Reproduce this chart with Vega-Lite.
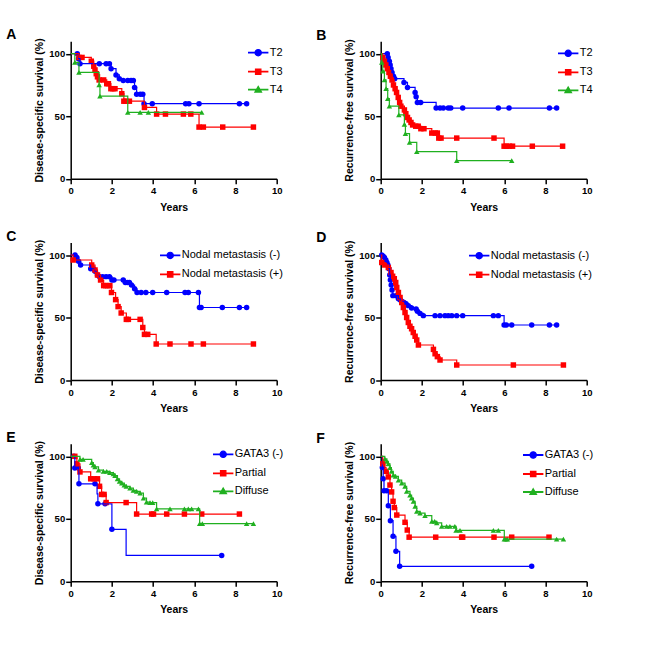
{
"$schema":"https://vega.github.io/schema/vega-lite/v6.json",
"autosize":{"type":"none"},
"padding":{"left":70.7,"top":41.2,"right":582.3,"bottom":608.8},
"background":"white",
"config":{
 "font":"Liberation Sans",
 "view":{"stroke":null},
 "axis":{"domainColor":"#000","domainWidth":1.5,"tickColor":"#000","tickWidth":1.5,"tickSize":5,"labelFont":"Liberation Sans","labelFontWeight":"bold","labelFontSize":9.5,"labelColor":"#000","titleFont":"Liberation Sans","titleFontWeight":"bold","titleFontSize":10.5,"titleColor":"#000","grid":false,"labelFlush":false,"labelOverlap":false,"labelPadding":1},
 "axisX":{"titlePadding":7,"labelPadding":2},
 "axisY":{"titlePadding":4.5},
 "legend":{"orient":"none","labelFont":"Liberation Sans","labelFontSize":11,"labelColor":"#000","symbolSize":36,"symbolStrokeWidth":1.2,"labelOffset":6,"rowPadding":6,"padding":0,"symbolOpacity":1},
 "title":{"anchor":"start","frame":"group","dx":-64.5,"dy":5.5,"offset":1,"baseline":"alphabetic","fontSize":14,"fontWeight":"bold","font":"Liberation Sans","color":"#000"}
},
"datasets":{"km":[
{"p":"A","g":"T2","t":0,"s":100,"c":0},{"p":"A","g":"T2","t":0.32,"s":100,"c":1},{"p":"A","g":"T2","t":0.38,"s":96,"c":1},{"p":"A","g":"T2","t":0.45,"s":92,"c":1},{"p":"A","g":"T2","t":1.39,"s":92,"c":1},{"p":"A","g":"T2","t":1.72,"s":92,"c":1},{"p":"A","g":"T2","t":1.88,"s":92,"c":1},{"p":"A","g":"T2","t":1.96,"s":88,"c":1},{"p":"A","g":"T2","t":2.2,"s":83,"c":1},{"p":"A","g":"T2","t":2.36,"s":80,"c":1},{"p":"A","g":"T2","t":2.55,"s":78.5,"c":1},{"p":"A","g":"T2","t":2.77,"s":78.5,"c":1},{"p":"A","g":"T2","t":2.93,"s":78.5,"c":1},{"p":"A","g":"T2","t":3.04,"s":78.5,"c":1},{"p":"A","g":"T2","t":3.1,"s":73,"c":1},{"p":"A","g":"T2","t":3.2,"s":67.5,"c":1},{"p":"A","g":"T2","t":3.38,"s":67.5,"c":1},{"p":"A","g":"T2","t":3.5,"s":67.5,"c":1},{"p":"A","g":"T2","t":3.56,"s":60,"c":1},{"p":"A","g":"T2","t":3.96,"s":60,"c":1},{"p":"A","g":"T2","t":5.58,"s":60,"c":1},{"p":"A","g":"T2","t":5.74,"s":60,"c":1},{"p":"A","g":"T2","t":6.23,"s":60,"c":1},{"p":"A","g":"T2","t":8.19,"s":60,"c":1},{"p":"A","g":"T2","t":8.54,"s":60,"c":1},
{"p":"A","g":"T3","t":0,"s":100,"c":0},{"p":"A","g":"T3","t":0.4,"s":97,"c":1},{"p":"A","g":"T3","t":0.55,"s":97,"c":1},{"p":"A","g":"T3","t":1.0,"s":94,"c":1},{"p":"A","g":"T3","t":1.12,"s":90,"c":1},{"p":"A","g":"T3","t":1.18,"s":87,"c":1},{"p":"A","g":"T3","t":1.24,"s":84,"c":1},{"p":"A","g":"T3","t":1.3,"s":81.5,"c":1},{"p":"A","g":"T3","t":1.38,"s":79,"c":1},{"p":"A","g":"T3","t":1.6,"s":79,"c":1},{"p":"A","g":"T3","t":1.75,"s":76,"c":1},{"p":"A","g":"T3","t":1.83,"s":76,"c":1},{"p":"A","g":"T3","t":1.95,"s":72,"c":1},{"p":"A","g":"T3","t":2.05,"s":72,"c":1},{"p":"A","g":"T3","t":2.15,"s":72,"c":1},{"p":"A","g":"T3","t":2.48,"s":68,"c":1},{"p":"A","g":"T3","t":2.58,"s":62,"c":1},{"p":"A","g":"T3","t":2.68,"s":62,"c":1},{"p":"A","g":"T3","t":2.85,"s":62,"c":1},{"p":"A","g":"T3","t":3.58,"s":57,"c":1},{"p":"A","g":"T3","t":4.17,"s":51.7,"c":1},{"p":"A","g":"T3","t":4.6,"s":51.7,"c":1},{"p":"A","g":"T3","t":5.47,"s":51.7,"c":1},{"p":"A","g":"T3","t":5.83,"s":51.7,"c":1},{"p":"A","g":"T3","t":6.23,"s":41.3,"c":1},{"p":"A","g":"T3","t":6.44,"s":41.3,"c":1},{"p":"A","g":"T3","t":7.38,"s":41.3,"c":1},{"p":"A","g":"T3","t":8.87,"s":41.3,"c":1},
{"p":"A","g":"T4","t":0,"s":100,"c":0},{"p":"A","g":"T4","t":0.2,"s":93,"c":1},{"p":"A","g":"T4","t":0.4,"s":85,"c":1},{"p":"A","g":"T4","t":1.38,"s":75,"c":1},{"p":"A","g":"T4","t":1.42,"s":66,"c":1},{"p":"A","g":"T4","t":2.77,"s":53,"c":1},{"p":"A","g":"T4","t":3.37,"s":53,"c":1},{"p":"A","g":"T4","t":3.77,"s":53,"c":1},{"p":"A","g":"T4","t":6.36,"s":53,"c":1},
{"p":"B","g":"T2","t":0,"s":100,"c":0},{"p":"B","g":"T2","t":0.32,"s":100,"c":1},{"p":"B","g":"T2","t":0.36,"s":97,"c":1},{"p":"B","g":"T2","t":0.42,"s":94,"c":1},{"p":"B","g":"T2","t":0.46,"s":91,"c":1},{"p":"B","g":"T2","t":0.5,"s":88,"c":1},{"p":"B","g":"T2","t":0.55,"s":85,"c":1},{"p":"B","g":"T2","t":0.62,"s":82,"c":1},{"p":"B","g":"T2","t":0.68,"s":80,"c":1},{"p":"B","g":"T2","t":1.13,"s":77,"c":1},{"p":"B","g":"T2","t":1.3,"s":73,"c":1},{"p":"B","g":"T2","t":1.67,"s":69,"c":1},{"p":"B","g":"T2","t":1.72,"s":65.5,"c":1},{"p":"B","g":"T2","t":1.78,"s":61,"c":1},{"p":"B","g":"T2","t":1.94,"s":61,"c":1},{"p":"B","g":"T2","t":2.69,"s":56.5,"c":1},{"p":"B","g":"T2","t":2.88,"s":56.5,"c":1},{"p":"B","g":"T2","t":3.04,"s":56.5,"c":1},{"p":"B","g":"T2","t":3.28,"s":56.5,"c":1},{"p":"B","g":"T2","t":3.4,"s":56.5,"c":1},{"p":"B","g":"T2","t":3.98,"s":56.5,"c":1},{"p":"B","g":"T2","t":5.71,"s":56.5,"c":1},{"p":"B","g":"T2","t":6.23,"s":56.5,"c":1},{"p":"B","g":"T2","t":8.19,"s":56.5,"c":1},{"p":"B","g":"T2","t":8.54,"s":56.5,"c":1},
{"p":"B","g":"T3","t":0,"s":100,"c":0},{"p":"B","g":"T3","t":0.1,"s":97,"c":1},{"p":"B","g":"T3","t":0.18,"s":94,"c":1},{"p":"B","g":"T3","t":0.25,"s":91,"c":1},{"p":"B","g":"T3","t":0.32,"s":88,"c":1},{"p":"B","g":"T3","t":0.4,"s":85,"c":1},{"p":"B","g":"T3","t":0.47,"s":82,"c":1},{"p":"B","g":"T3","t":0.55,"s":79,"c":1},{"p":"B","g":"T3","t":0.62,"s":75,"c":1},{"p":"B","g":"T3","t":0.7,"s":72,"c":1},{"p":"B","g":"T3","t":0.77,"s":69,"c":1},{"p":"B","g":"T3","t":0.85,"s":65,"c":1},{"p":"B","g":"T3","t":0.92,"s":61,"c":1},{"p":"B","g":"T3","t":0.98,"s":58,"c":1},{"p":"B","g":"T3","t":1.15,"s":55,"c":1},{"p":"B","g":"T3","t":1.22,"s":52,"c":1},{"p":"B","g":"T3","t":1.3,"s":49,"c":1},{"p":"B","g":"T3","t":1.38,"s":47,"c":1},{"p":"B","g":"T3","t":1.47,"s":45,"c":1},{"p":"B","g":"T3","t":1.55,"s":43,"c":1},{"p":"B","g":"T3","t":1.7,"s":42,"c":1},{"p":"B","g":"T3","t":1.82,"s":42,"c":1},{"p":"B","g":"T3","t":1.95,"s":40,"c":1},{"p":"B","g":"T3","t":2.1,"s":40,"c":1},{"p":"B","g":"T3","t":2.48,"s":36.5,"c":1},{"p":"B","g":"T3","t":2.65,"s":36.5,"c":1},{"p":"B","g":"T3","t":2.75,"s":36.5,"c":1},{"p":"B","g":"T3","t":2.82,"s":32.5,"c":1},{"p":"B","g":"T3","t":2.93,"s":32.5,"c":1},{"p":"B","g":"T3","t":3.69,"s":32.5,"c":1},{"p":"B","g":"T3","t":5.5,"s":32.5,"c":1},{"p":"B","g":"T3","t":5.99,"s":26,"c":1},{"p":"B","g":"T3","t":6.1,"s":26,"c":1},{"p":"B","g":"T3","t":6.25,"s":26,"c":1},{"p":"B","g":"T3","t":6.4,"s":26,"c":1},{"p":"B","g":"T3","t":7.36,"s":26,"c":1},{"p":"B","g":"T3","t":8.83,"s":26,"c":1},
{"p":"B","g":"T4","t":0,"s":100,"c":0},{"p":"B","g":"T4","t":0.05,"s":93,"c":1},{"p":"B","g":"T4","t":0.1,"s":86,"c":1},{"p":"B","g":"T4","t":0.18,"s":79,"c":1},{"p":"B","g":"T4","t":0.26,"s":72,"c":1},{"p":"B","g":"T4","t":0.34,"s":64,"c":1},{"p":"B","g":"T4","t":0.42,"s":58,"c":1},{"p":"B","g":"T4","t":0.88,"s":51,"c":1},{"p":"B","g":"T4","t":1.15,"s":43.5,"c":1},{"p":"B","g":"T4","t":1.2,"s":36,"c":1},{"p":"B","g":"T4","t":1.4,"s":29,"c":1},{"p":"B","g":"T4","t":1.75,"s":21.6,"c":1},{"p":"B","g":"T4","t":3.69,"s":14.4,"c":1},{"p":"B","g":"T4","t":6.36,"s":14.4,"c":1},
{"p":"C","g":"Nodal metastasis (-)","t":0,"s":100,"c":0},{"p":"C","g":"Nodal metastasis (-)","t":0.21,"s":100,"c":1},{"p":"C","g":"Nodal metastasis (-)","t":0.3,"s":98,"c":1},{"p":"C","g":"Nodal metastasis (-)","t":0.38,"s":95,"c":1},{"p":"C","g":"Nodal metastasis (-)","t":0.48,"s":92,"c":1},{"p":"C","g":"Nodal metastasis (-)","t":0.97,"s":89,"c":1},{"p":"C","g":"Nodal metastasis (-)","t":1.1,"s":89,"c":1},{"p":"C","g":"Nodal metastasis (-)","t":1.18,"s":87,"c":1},{"p":"C","g":"Nodal metastasis (-)","t":1.3,"s":84,"c":1},{"p":"C","g":"Nodal metastasis (-)","t":1.4,"s":82.7,"c":1},{"p":"C","g":"Nodal metastasis (-)","t":1.55,"s":82.7,"c":1},{"p":"C","g":"Nodal metastasis (-)","t":1.72,"s":82.7,"c":1},{"p":"C","g":"Nodal metastasis (-)","t":1.88,"s":82.7,"c":1},{"p":"C","g":"Nodal metastasis (-)","t":2.0,"s":80,"c":1},{"p":"C","g":"Nodal metastasis (-)","t":2.1,"s":80,"c":1},{"p":"C","g":"Nodal metastasis (-)","t":2.55,"s":80,"c":1},{"p":"C","g":"Nodal metastasis (-)","t":2.65,"s":78,"c":1},{"p":"C","g":"Nodal metastasis (-)","t":2.75,"s":78,"c":1},{"p":"C","g":"Nodal metastasis (-)","t":2.85,"s":78,"c":1},{"p":"C","g":"Nodal metastasis (-)","t":2.95,"s":76,"c":1},{"p":"C","g":"Nodal metastasis (-)","t":3.1,"s":73,"c":1},{"p":"C","g":"Nodal metastasis (-)","t":3.22,"s":70,"c":1},{"p":"C","g":"Nodal metastasis (-)","t":3.42,"s":70,"c":1},{"p":"C","g":"Nodal metastasis (-)","t":3.65,"s":70,"c":1},{"p":"C","g":"Nodal metastasis (-)","t":3.98,"s":70,"c":1},{"p":"C","g":"Nodal metastasis (-)","t":4.66,"s":70,"c":1},{"p":"C","g":"Nodal metastasis (-)","t":5.55,"s":70,"c":1},{"p":"C","g":"Nodal metastasis (-)","t":5.71,"s":70,"c":1},{"p":"C","g":"Nodal metastasis (-)","t":6.2,"s":70,"c":1},{"p":"C","g":"Nodal metastasis (-)","t":6.25,"s":58,"c":1},{"p":"C","g":"Nodal metastasis (-)","t":6.33,"s":58,"c":1},{"p":"C","g":"Nodal metastasis (-)","t":7.36,"s":58,"c":1},{"p":"C","g":"Nodal metastasis (-)","t":8.19,"s":58,"c":1},{"p":"C","g":"Nodal metastasis (-)","t":8.54,"s":58,"c":1},
{"p":"C","g":"Nodal metastasis (+)","t":0,"s":100,"c":0},{"p":"C","g":"Nodal metastasis (+)","t":0.12,"s":96,"c":1},{"p":"C","g":"Nodal metastasis (+)","t":1.02,"s":92,"c":1},{"p":"C","g":"Nodal metastasis (+)","t":1.18,"s":88,"c":1},{"p":"C","g":"Nodal metastasis (+)","t":1.3,"s":84,"c":1},{"p":"C","g":"Nodal metastasis (+)","t":1.45,"s":80,"c":1},{"p":"C","g":"Nodal metastasis (+)","t":1.6,"s":75.5,"c":1},{"p":"C","g":"Nodal metastasis (+)","t":1.7,"s":75.5,"c":1},{"p":"C","g":"Nodal metastasis (+)","t":1.8,"s":75.5,"c":1},{"p":"C","g":"Nodal metastasis (+)","t":1.9,"s":75.5,"c":1},{"p":"C","g":"Nodal metastasis (+)","t":1.98,"s":70,"c":1},{"p":"C","g":"Nodal metastasis (+)","t":2.18,"s":64.3,"c":1},{"p":"C","g":"Nodal metastasis (+)","t":2.3,"s":58.7,"c":1},{"p":"C","g":"Nodal metastasis (+)","t":2.45,"s":53.6,"c":1},{"p":"C","g":"Nodal metastasis (+)","t":2.7,"s":48.5,"c":1},{"p":"C","g":"Nodal metastasis (+)","t":2.8,"s":48.5,"c":1},{"p":"C","g":"Nodal metastasis (+)","t":3.37,"s":48.5,"c":1},{"p":"C","g":"Nodal metastasis (+)","t":3.5,"s":42,"c":1},{"p":"C","g":"Nodal metastasis (+)","t":3.58,"s":36.5,"c":1},{"p":"C","g":"Nodal metastasis (+)","t":3.74,"s":36.5,"c":1},{"p":"C","g":"Nodal metastasis (+)","t":4.15,"s":28.8,"c":1},{"p":"C","g":"Nodal metastasis (+)","t":4.82,"s":28.8,"c":1},{"p":"C","g":"Nodal metastasis (+)","t":5.84,"s":28.8,"c":1},{"p":"C","g":"Nodal metastasis (+)","t":6.44,"s":28.8,"c":1},{"p":"C","g":"Nodal metastasis (+)","t":8.87,"s":28.8,"c":1},
{"p":"D","g":"Nodal metastasis (-)","t":0,"s":100,"c":0},{"p":"D","g":"Nodal metastasis (-)","t":0.05,"s":100,"c":1},{"p":"D","g":"Nodal metastasis (-)","t":0.12,"s":99,"c":1},{"p":"D","g":"Nodal metastasis (-)","t":0.18,"s":98,"c":1},{"p":"D","g":"Nodal metastasis (-)","t":0.25,"s":96,"c":1},{"p":"D","g":"Nodal metastasis (-)","t":0.3,"s":94,"c":1},{"p":"D","g":"Nodal metastasis (-)","t":0.35,"s":92,"c":1},{"p":"D","g":"Nodal metastasis (-)","t":0.4,"s":89,"c":1},{"p":"D","g":"Nodal metastasis (-)","t":0.44,"s":84,"c":1},{"p":"D","g":"Nodal metastasis (-)","t":0.47,"s":80,"c":1},{"p":"D","g":"Nodal metastasis (-)","t":0.51,"s":76,"c":1},{"p":"D","g":"Nodal metastasis (-)","t":0.55,"s":72,"c":1},{"p":"D","g":"Nodal metastasis (-)","t":0.59,"s":67.5,"c":1},{"p":"D","g":"Nodal metastasis (-)","t":0.75,"s":67.5,"c":1},{"p":"D","g":"Nodal metastasis (-)","t":0.86,"s":65,"c":1},{"p":"D","g":"Nodal metastasis (-)","t":0.95,"s":64,"c":1},{"p":"D","g":"Nodal metastasis (-)","t":1.02,"s":63,"c":1},{"p":"D","g":"Nodal metastasis (-)","t":1.13,"s":62,"c":1},{"p":"D","g":"Nodal metastasis (-)","t":1.23,"s":61,"c":1},{"p":"D","g":"Nodal metastasis (-)","t":1.34,"s":59.5,"c":1},{"p":"D","g":"Nodal metastasis (-)","t":1.5,"s":57.6,"c":1},{"p":"D","g":"Nodal metastasis (-)","t":1.72,"s":56.8,"c":1},{"p":"D","g":"Nodal metastasis (-)","t":1.78,"s":55,"c":1},{"p":"D","g":"Nodal metastasis (-)","t":1.91,"s":53.3,"c":1},{"p":"D","g":"Nodal metastasis (-)","t":2.07,"s":51.5,"c":1},{"p":"D","g":"Nodal metastasis (-)","t":2.64,"s":51.5,"c":1},{"p":"D","g":"Nodal metastasis (-)","t":2.88,"s":51.5,"c":1},{"p":"D","g":"Nodal metastasis (-)","t":3.12,"s":51.5,"c":1},{"p":"D","g":"Nodal metastasis (-)","t":3.28,"s":51.5,"c":1},{"p":"D","g":"Nodal metastasis (-)","t":3.45,"s":51.5,"c":1},{"p":"D","g":"Nodal metastasis (-)","t":3.69,"s":51.5,"c":1},{"p":"D","g":"Nodal metastasis (-)","t":3.98,"s":51.5,"c":1},{"p":"D","g":"Nodal metastasis (-)","t":5.47,"s":51.5,"c":1},{"p":"D","g":"Nodal metastasis (-)","t":5.71,"s":51.5,"c":1},{"p":"D","g":"Nodal metastasis (-)","t":5.99,"s":44,"c":1},{"p":"D","g":"Nodal metastasis (-)","t":6.1,"s":44,"c":1},{"p":"D","g":"Nodal metastasis (-)","t":6.36,"s":44,"c":1},{"p":"D","g":"Nodal metastasis (-)","t":7.33,"s":44,"c":1},{"p":"D","g":"Nodal metastasis (-)","t":8.19,"s":44,"c":1},{"p":"D","g":"Nodal metastasis (-)","t":8.54,"s":44,"c":1},
{"p":"D","g":"Nodal metastasis (+)","t":0,"s":100,"c":0},{"p":"D","g":"Nodal metastasis (+)","t":0.05,"s":94,"c":1},{"p":"D","g":"Nodal metastasis (+)","t":0.2,"s":92,"c":1},{"p":"D","g":"Nodal metastasis (+)","t":0.37,"s":90,"c":1},{"p":"D","g":"Nodal metastasis (+)","t":0.5,"s":86,"c":1},{"p":"D","g":"Nodal metastasis (+)","t":0.58,"s":83,"c":1},{"p":"D","g":"Nodal metastasis (+)","t":0.66,"s":81,"c":1},{"p":"D","g":"Nodal metastasis (+)","t":0.73,"s":78,"c":1},{"p":"D","g":"Nodal metastasis (+)","t":0.78,"s":74,"c":1},{"p":"D","g":"Nodal metastasis (+)","t":0.86,"s":70,"c":1},{"p":"D","g":"Nodal metastasis (+)","t":0.94,"s":66,"c":1},{"p":"D","g":"Nodal metastasis (+)","t":1.02,"s":62,"c":1},{"p":"D","g":"Nodal metastasis (+)","t":1.1,"s":58,"c":1},{"p":"D","g":"Nodal metastasis (+)","t":1.18,"s":54,"c":1},{"p":"D","g":"Nodal metastasis (+)","t":1.26,"s":50,"c":1},{"p":"D","g":"Nodal metastasis (+)","t":1.34,"s":46,"c":1},{"p":"D","g":"Nodal metastasis (+)","t":1.42,"s":43,"c":1},{"p":"D","g":"Nodal metastasis (+)","t":1.5,"s":41,"c":1},{"p":"D","g":"Nodal metastasis (+)","t":1.58,"s":38,"c":1},{"p":"D","g":"Nodal metastasis (+)","t":1.67,"s":35,"c":1},{"p":"D","g":"Nodal metastasis (+)","t":1.75,"s":32,"c":1},{"p":"D","g":"Nodal metastasis (+)","t":1.83,"s":28,"c":1},{"p":"D","g":"Nodal metastasis (+)","t":2.56,"s":24.5,"c":1},{"p":"D","g":"Nodal metastasis (+)","t":2.64,"s":21,"c":1},{"p":"D","g":"Nodal metastasis (+)","t":2.75,"s":18.7,"c":1},{"p":"D","g":"Nodal metastasis (+)","t":2.88,"s":16,"c":1},{"p":"D","g":"Nodal metastasis (+)","t":3.69,"s":12,"c":1},{"p":"D","g":"Nodal metastasis (+)","t":6.44,"s":12,"c":1},{"p":"D","g":"Nodal metastasis (+)","t":8.87,"s":12,"c":1},
{"p":"E","g":"GATA3 (-)","t":0,"s":100,"c":0},{"p":"E","g":"GATA3 (-)","t":0.16,"s":100,"c":1},{"p":"E","g":"GATA3 (-)","t":0.2,"s":90.7,"c":1},{"p":"E","g":"GATA3 (-)","t":0.37,"s":90.7,"c":1},{"p":"E","g":"GATA3 (-)","t":0.4,"s":78,"c":1},{"p":"E","g":"GATA3 (-)","t":1.18,"s":78,"c":1},{"p":"E","g":"GATA3 (-)","t":1.28,"s":70,"c":0},{"p":"E","g":"GATA3 (-)","t":1.32,"s":62,"c":1},{"p":"E","g":"GATA3 (-)","t":1.67,"s":62,"c":1},{"p":"E","g":"GATA3 (-)","t":2.0,"s":41.6,"c":1},{"p":"E","g":"GATA3 (-)","t":2.69,"s":20.7,"c":0},{"p":"E","g":"GATA3 (-)","t":7.33,"s":20.7,"c":1},
{"p":"E","g":"Partial","t":0,"s":100,"c":0},{"p":"E","g":"Partial","t":0.2,"s":100,"c":1},{"p":"E","g":"Partial","t":0.3,"s":94,"c":1},{"p":"E","g":"Partial","t":0.45,"s":87.5,"c":1},{"p":"E","g":"Partial","t":0.97,"s":82,"c":1},{"p":"E","g":"Partial","t":1.14,"s":82,"c":1},{"p":"E","g":"Partial","t":1.3,"s":82,"c":1},{"p":"E","g":"Partial","t":1.4,"s":76,"c":1},{"p":"E","g":"Partial","t":1.5,"s":69.5,"c":1},{"p":"E","g":"Partial","t":1.62,"s":69.5,"c":1},{"p":"E","g":"Partial","t":1.72,"s":63,"c":1},{"p":"E","g":"Partial","t":2.69,"s":63,"c":1},{"p":"E","g":"Partial","t":3.2,"s":53.8,"c":1},{"p":"E","g":"Partial","t":3.93,"s":53.8,"c":1},{"p":"E","g":"Partial","t":4.02,"s":53.8,"c":1},{"p":"E","g":"Partial","t":4.66,"s":53.8,"c":1},{"p":"E","g":"Partial","t":5.52,"s":53.8,"c":1},{"p":"E","g":"Partial","t":6.36,"s":53.8,"c":1},{"p":"E","g":"Partial","t":8.19,"s":53.8,"c":1},
{"p":"E","g":"Diffuse","t":0,"s":100,"c":0},{"p":"E","g":"Diffuse","t":0.45,"s":97.6,"c":1},{"p":"E","g":"Diffuse","t":0.6,"s":97.6,"c":1},{"p":"E","g":"Diffuse","t":1.02,"s":95,"c":1},{"p":"E","g":"Diffuse","t":1.1,"s":93,"c":1},{"p":"E","g":"Diffuse","t":1.18,"s":91.5,"c":1},{"p":"E","g":"Diffuse","t":1.35,"s":89,"c":1},{"p":"E","g":"Diffuse","t":1.59,"s":88,"c":1},{"p":"E","g":"Diffuse","t":1.75,"s":88,"c":1},{"p":"E","g":"Diffuse","t":1.9,"s":87,"c":1},{"p":"E","g":"Diffuse","t":2.07,"s":86,"c":1},{"p":"E","g":"Diffuse","t":2.15,"s":84.5,"c":1},{"p":"E","g":"Diffuse","t":2.27,"s":82,"c":1},{"p":"E","g":"Diffuse","t":2.37,"s":80,"c":1},{"p":"E","g":"Diffuse","t":2.48,"s":78.5,"c":1},{"p":"E","g":"Diffuse","t":2.6,"s":77,"c":1},{"p":"E","g":"Diffuse","t":2.7,"s":76,"c":1},{"p":"E","g":"Diffuse","t":2.88,"s":74.5,"c":1},{"p":"E","g":"Diffuse","t":3.04,"s":72.7,"c":1},{"p":"E","g":"Diffuse","t":3.2,"s":72,"c":1},{"p":"E","g":"Diffuse","t":3.37,"s":70.5,"c":1},{"p":"E","g":"Diffuse","t":3.53,"s":66.6,"c":1},{"p":"E","g":"Diffuse","t":3.68,"s":63.4,"c":1},{"p":"E","g":"Diffuse","t":3.85,"s":63,"c":1},{"p":"E","g":"Diffuse","t":3.98,"s":63,"c":1},{"p":"E","g":"Diffuse","t":4.17,"s":58,"c":1},{"p":"E","g":"Diffuse","t":4.82,"s":58,"c":1},{"p":"E","g":"Diffuse","t":5.52,"s":58,"c":1},{"p":"E","g":"Diffuse","t":5.71,"s":58,"c":1},{"p":"E","g":"Diffuse","t":5.87,"s":58,"c":1},{"p":"E","g":"Diffuse","t":6.2,"s":58,"c":1},{"p":"E","g":"Diffuse","t":6.26,"s":46.2,"c":1},{"p":"E","g":"Diffuse","t":6.39,"s":46.2,"c":1},{"p":"E","g":"Diffuse","t":8.54,"s":46.2,"c":1},{"p":"E","g":"Diffuse","t":8.87,"s":46.2,"c":1},
{"p":"F","g":"GATA3 (-)","t":0,"s":100,"c":0},{"p":"F","g":"GATA3 (-)","t":0.08,"s":91,"c":1},{"p":"F","g":"GATA3 (-)","t":0.12,"s":82,"c":1},{"p":"F","g":"GATA3 (-)","t":0.16,"s":72.5,"c":1},{"p":"F","g":"GATA3 (-)","t":0.29,"s":72.5,"c":1},{"p":"F","g":"GATA3 (-)","t":0.37,"s":60.5,"c":1},{"p":"F","g":"GATA3 (-)","t":0.47,"s":48.5,"c":1},{"p":"F","g":"GATA3 (-)","t":0.6,"s":36,"c":1},{"p":"F","g":"GATA3 (-)","t":0.74,"s":24,"c":1},{"p":"F","g":"GATA3 (-)","t":0.92,"s":12,"c":1},{"p":"F","g":"GATA3 (-)","t":7.33,"s":12,"c":1},
{"p":"F","g":"Partial","t":0,"s":100,"c":0},{"p":"F","g":"Partial","t":0.1,"s":94,"c":1},{"p":"F","g":"Partial","t":0.2,"s":91,"c":0},{"p":"F","g":"Partial","t":0.26,"s":88,"c":1},{"p":"F","g":"Partial","t":0.37,"s":83.5,"c":1},{"p":"F","g":"Partial","t":0.45,"s":77,"c":1},{"p":"F","g":"Partial","t":0.53,"s":71.5,"c":1},{"p":"F","g":"Partial","t":0.6,"s":64,"c":1},{"p":"F","g":"Partial","t":0.66,"s":59,"c":1},{"p":"F","g":"Partial","t":0.78,"s":53,"c":1},{"p":"F","g":"Partial","t":1.18,"s":47.2,"c":1},{"p":"F","g":"Partial","t":1.29,"s":41,"c":1},{"p":"F","g":"Partial","t":1.38,"s":35.3,"c":1},{"p":"F","g":"Partial","t":2.67,"s":35.3,"c":1},{"p":"F","g":"Partial","t":3.93,"s":35.3,"c":1},{"p":"F","g":"Partial","t":3.98,"s":35.3,"c":1},{"p":"F","g":"Partial","t":5.5,"s":35.3,"c":1},{"p":"F","g":"Partial","t":6.36,"s":35.3,"c":1},{"p":"F","g":"Partial","t":8.17,"s":35.3,"c":1},
{"p":"F","g":"Diffuse","t":0,"s":100,"c":0},{"p":"F","g":"Diffuse","t":0.2,"s":98,"c":1},{"p":"F","g":"Diffuse","t":0.3,"s":96,"c":1},{"p":"F","g":"Diffuse","t":0.37,"s":94,"c":1},{"p":"F","g":"Diffuse","t":0.45,"s":91,"c":1},{"p":"F","g":"Diffuse","t":0.52,"s":88,"c":1},{"p":"F","g":"Diffuse","t":0.61,"s":85,"c":1},{"p":"F","g":"Diffuse","t":0.72,"s":84,"c":1},{"p":"F","g":"Diffuse","t":0.86,"s":81,"c":1},{"p":"F","g":"Diffuse","t":1.02,"s":78.5,"c":1},{"p":"F","g":"Diffuse","t":1.18,"s":76,"c":1},{"p":"F","g":"Diffuse","t":1.26,"s":72,"c":1},{"p":"F","g":"Diffuse","t":1.42,"s":69,"c":1},{"p":"F","g":"Diffuse","t":1.5,"s":66.6,"c":1},{"p":"F","g":"Diffuse","t":1.59,"s":64,"c":1},{"p":"F","g":"Diffuse","t":1.67,"s":60,"c":1},{"p":"F","g":"Diffuse","t":1.75,"s":56,"c":1},{"p":"F","g":"Diffuse","t":1.91,"s":54.6,"c":1},{"p":"F","g":"Diffuse","t":2.15,"s":52.5,"c":1},{"p":"F","g":"Diffuse","t":2.48,"s":48,"c":1},{"p":"F","g":"Diffuse","t":2.62,"s":48,"c":1},{"p":"F","g":"Diffuse","t":2.72,"s":46.7,"c":1},{"p":"F","g":"Diffuse","t":2.96,"s":44,"c":1},{"p":"F","g":"Diffuse","t":3.2,"s":44,"c":1},{"p":"F","g":"Diffuse","t":3.36,"s":44,"c":1},{"p":"F","g":"Diffuse","t":3.6,"s":44,"c":1},{"p":"F","g":"Diffuse","t":3.66,"s":40.8,"c":1},{"p":"F","g":"Diffuse","t":3.85,"s":40.8,"c":1},{"p":"F","g":"Diffuse","t":5.47,"s":40.8,"c":1},{"p":"F","g":"Diffuse","t":5.71,"s":40.8,"c":1},{"p":"F","g":"Diffuse","t":6.0,"s":33.7,"c":1},{"p":"F","g":"Diffuse","t":6.08,"s":33.7,"c":1},{"p":"F","g":"Diffuse","t":6.15,"s":33.7,"c":1},{"p":"F","g":"Diffuse","t":8.54,"s":33.7,"c":1},{"p":"F","g":"Diffuse","t":8.87,"s":33.7,"c":1}
]},
"columns":2,
"spacing":{"row":63.3,"column":104},
"bounds":"flush",
"resolve":{"scale":{"color":"independent","x":"independent","y":"independent"},"legend":{"color":"independent"}},
"concat":[
{"title":{"text":"A"},
 "width":206,"height":137.5,"data":{"name":"km"},"transform":[{"filter":"datum.p == 'A'"}],
 "encoding":{"x":{"field":"t","type":"quantitative","scale":{"domain":[0,10]},"axis":{"title":"Years","values":[0,2,4,6,8,10]}},
    "y":{"field":"s","type":"quantitative","scale":{"domain":[0,110]},"axis":{"title":"Disease-specific survival (%)","values":[0,50,100]}},
    "color":{"field":"g","type":"nominal","scale":{"domain":["T2","T3","T4"],"range":["#0000ff","#ff0000","#20b020"]},
     "legend":{"title":null,"legendX":182,"legendY":6,"symbolType":{"expr":"datum.index == 0 ? 'M-3.2,-0.1H3.2V0.1H-3.2ZM1.05,0A1.05,1.05,0,1,1,-1.05,0A1.05,1.05,0,1,1,1.05,0Z' : datum.index == 1 ? 'M-3.2,-0.1H3.2V0.1H-3.2ZM-0.9,-0.9H0.9V0.9H-0.9Z' : 'M-3.2,-0.1H3.2V0.1H-3.2ZM0,-1.1L1.1,0.8H-1.1Z'"}}}},
 "layer":[
  {"transform":[{"filter":"datum.c == 1 && datum.g == 'T2'"}],"mark":{"type":"point","filled":true,"size":30,"opacity":1,"shape":"circle"}},
  {"transform":[{"filter":"datum.c == 1 && datum.g == 'T3'"}],"mark":{"type":"point","filled":true,"size":30,"opacity":1,"shape":"square"}},
  {"transform":[{"filter":"datum.c == 1 && datum.g == 'T4'"}],"mark":{"type":"point","filled":true,"size":30,"opacity":1,"shape":"triangle-up"}},
  {"mark":{"type":"line","interpolate":"step-after","strokeWidth":1.2}},
  {"data":{"values":[{}]},"mark":{"type":"text","align":"right","baseline":"middle","dx":5,"fontSize":11,"fontWeight":"bold","font":"Liberation Sans","color":"#000"},
   "encoding":{"x":{"datum":10,"type":"quantitative"},"y":{"datum":11.5,"type":"quantitative"},"color":{"value":"#000"},"text":{"value":"= 0.279"}}},
  {"data":{"values":[{}]},"mark":{"type":"text","align":"right","baseline":"middle","dx":-35,"fontSize":11,"fontWeight":"bold","fontStyle":"italic","font":"Liberation Sans","color":"#000"},
   "encoding":{"x":{"datum":10,"type":"quantitative"},"y":{"datum":11.5,"type":"quantitative"},"color":{"value":"#000"},"text":{"value":"p"}}}
 ]},
{"title":{"text":"B"},
 "width":206,"height":137.5,"data":{"name":"km"},"transform":[{"filter":"datum.p == 'B'"}],
 "encoding":{"x":{"field":"t","type":"quantitative","scale":{"domain":[0,10]},"axis":{"title":"Years","values":[0,2,4,6,8,10]}},
    "y":{"field":"s","type":"quantitative","scale":{"domain":[0,110]},"axis":{"title":"Recurrence-free survival (%)","values":[0,50,100]}},
    "color":{"field":"g","type":"nominal","scale":{"domain":["T2","T3","T4"],"range":["#0000ff","#ff0000","#20b020"]},
     "legend":{"title":null,"legendX":182,"legendY":6.6,"symbolType":{"expr":"datum.index == 0 ? 'M-3.2,-0.1H3.2V0.1H-3.2ZM1.05,0A1.05,1.05,0,1,1,-1.05,0A1.05,1.05,0,1,1,1.05,0Z' : datum.index == 1 ? 'M-3.2,-0.1H3.2V0.1H-3.2ZM-0.9,-0.9H0.9V0.9H-0.9Z' : 'M-3.2,-0.1H3.2V0.1H-3.2ZM0,-1.1L1.1,0.8H-1.1Z'"}}}},
 "layer":[
  {"transform":[{"filter":"datum.c == 1 && datum.g == 'T2'"}],"mark":{"type":"point","filled":true,"size":30,"opacity":1,"shape":"circle"}},
  {"transform":[{"filter":"datum.c == 1 && datum.g == 'T3'"}],"mark":{"type":"point","filled":true,"size":30,"opacity":1,"shape":"square"}},
  {"transform":[{"filter":"datum.c == 1 && datum.g == 'T4'"}],"mark":{"type":"point","filled":true,"size":30,"opacity":1,"shape":"triangle-up"}},
  {"mark":{"type":"line","interpolate":"step-after","strokeWidth":1.2}},
  {"data":{"values":[{}]},"mark":{"type":"text","align":"right","baseline":"middle","dx":5,"fontSize":11,"fontWeight":"bold","font":"Liberation Sans","color":"#000"},
   "encoding":{"x":{"datum":10,"type":"quantitative"},"y":{"datum":11.7,"type":"quantitative"},"color":{"value":"#000"},"text":{"value":"= 0.010"}}},
  {"data":{"values":[{}]},"mark":{"type":"text","align":"right","baseline":"middle","dx":-35,"fontSize":11,"fontWeight":"bold","fontStyle":"italic","font":"Liberation Sans","color":"#000"},
   "encoding":{"x":{"datum":10,"type":"quantitative"},"y":{"datum":11.7,"type":"quantitative"},"color":{"value":"#000"},"text":{"value":"p"}}}
 ]},
{"title":{"text":"C"},
 "width":206,"height":137.5,"data":{"name":"km"},"transform":[{"filter":"datum.p == 'C'"}],
 "encoding":{"x":{"field":"t","type":"quantitative","scale":{"domain":[0,10]},"axis":{"title":"Years","values":[0,2,4,6,8,10]}},
    "y":{"field":"s","type":"quantitative","scale":{"domain":[0,110]},"axis":{"title":"Disease-specific survival (%)","values":[0,50,100]}},
    "color":{"field":"g","type":"nominal","scale":{"domain":["Nodal metastasis (-)","Nodal metastasis (+)"],"range":["#0000ff","#ff0000"]},
     "legend":{"title":null,"legendX":94,"legendY":7.4,"symbolType":{"expr":"datum.index == 0 ? 'M-3.2,-0.1H3.2V0.1H-3.2ZM1.05,0A1.05,1.05,0,1,1,-1.05,0A1.05,1.05,0,1,1,1.05,0Z' : 'M-3.2,-0.1H3.2V0.1H-3.2ZM-0.9,-0.9H0.9V0.9H-0.9Z'"}}}},
 "layer":[
  {"transform":[{"filter":"datum.c == 1 && datum.g == 'Nodal metastasis (-)'"}],"mark":{"type":"point","filled":true,"size":30,"opacity":1,"shape":"circle"}},
  {"transform":[{"filter":"datum.c == 1 && datum.g == 'Nodal metastasis (+)'"}],"mark":{"type":"point","filled":true,"size":30,"opacity":1,"shape":"square"}},
  {"mark":{"type":"line","interpolate":"step-after","strokeWidth":1.2}},
  {"data":{"values":[{}]},"mark":{"type":"text","align":"right","baseline":"middle","dx":5,"fontSize":11,"fontWeight":"bold","font":"Liberation Sans","color":"#000"},
   "encoding":{"x":{"datum":10,"type":"quantitative"},"y":{"datum":12.2,"type":"quantitative"},"color":{"value":"#000"},"text":{"value":"= 0.030"}}},
  {"data":{"values":[{}]},"mark":{"type":"text","align":"right","baseline":"middle","dx":-35,"fontSize":11,"fontWeight":"bold","fontStyle":"italic","font":"Liberation Sans","color":"#000"},
   "encoding":{"x":{"datum":10,"type":"quantitative"},"y":{"datum":12.2,"type":"quantitative"},"color":{"value":"#000"},"text":{"value":"p"}}}
 ]},
{"title":{"text":"D"},
 "width":206,"height":137.5,"data":{"name":"km"},"transform":[{"filter":"datum.p == 'D'"}],
 "encoding":{"x":{"field":"t","type":"quantitative","scale":{"domain":[0,10]},"axis":{"title":"Years","values":[0,2,4,6,8,10]}},
    "y":{"field":"s","type":"quantitative","scale":{"domain":[0,110]},"axis":{"title":"Recurrence-free survival (%)","values":[0,50,100]}},
    "color":{"field":"g","type":"nominal","scale":{"domain":["Nodal metastasis (-)","Nodal metastasis (+)"],"range":["#0000ff","#ff0000"]},
     "legend":{"title":null,"legendX":93,"legendY":7.7,"symbolType":{"expr":"datum.index == 0 ? 'M-3.2,-0.1H3.2V0.1H-3.2ZM1.05,0A1.05,1.05,0,1,1,-1.05,0A1.05,1.05,0,1,1,1.05,0Z' : 'M-3.2,-0.1H3.2V0.1H-3.2ZM-0.9,-0.9H0.9V0.9H-0.9Z'"}}}},
 "layer":[
  {"transform":[{"filter":"datum.c == 1 && datum.g == 'Nodal metastasis (-)'"}],"mark":{"type":"point","filled":true,"size":30,"opacity":1,"shape":"circle"}},
  {"transform":[{"filter":"datum.c == 1 && datum.g == 'Nodal metastasis (+)'"}],"mark":{"type":"point","filled":true,"size":30,"opacity":1,"shape":"square"}},
  {"mark":{"type":"line","interpolate":"step-after","strokeWidth":1.2}},
  {"data":{"values":[{}]},"mark":{"type":"text","align":"right","baseline":"middle","dx":5,"fontSize":11,"fontWeight":"bold","font":"Liberation Sans","color":"#000"},
   "encoding":{"x":{"datum":10,"type":"quantitative"},"y":{"datum":27.4,"type":"quantitative"},"color":{"value":"#000"},"text":{"value":"= 0.022"}}},
  {"data":{"values":[{}]},"mark":{"type":"text","align":"right","baseline":"middle","dx":-35,"fontSize":11,"fontWeight":"bold","fontStyle":"italic","font":"Liberation Sans","color":"#000"},
   "encoding":{"x":{"datum":10,"type":"quantitative"},"y":{"datum":27.4,"type":"quantitative"},"color":{"value":"#000"},"text":{"value":"p"}}}
 ]},
{"title":{"text":"E"},
 "width":206,"height":137.5,"data":{"name":"km"},"transform":[{"filter":"datum.p == 'E'"}],
 "encoding":{"x":{"field":"t","type":"quantitative","scale":{"domain":[0,10]},"axis":{"title":"Years","values":[0,2,4,6,8,10]}},
    "y":{"field":"s","type":"quantitative","scale":{"domain":[0,110]},"axis":{"title":"Disease-specific survival (%)","values":[0,50,100]}},
    "color":{"field":"g","type":"nominal","scale":{"domain":["GATA3 (-)","Partial","Diffuse"],"range":["#0000ff","#ff0000","#20b020"]},
     "legend":{"title":null,"legendX":147,"legendY":5,"symbolType":{"expr":"datum.index == 0 ? 'M-3.2,-0.1H3.2V0.1H-3.2ZM1.05,0A1.05,1.05,0,1,1,-1.05,0A1.05,1.05,0,1,1,1.05,0Z' : datum.index == 1 ? 'M-3.2,-0.1H3.2V0.1H-3.2ZM-0.9,-0.9H0.9V0.9H-0.9Z' : 'M-3.2,-0.1H3.2V0.1H-3.2ZM0,-1.1L1.1,0.8H-1.1Z'"}}}},
 "layer":[
  {"transform":[{"filter":"datum.c == 1 && datum.g == 'GATA3 (-)'"}],"mark":{"type":"point","filled":true,"size":30,"opacity":1,"shape":"circle"}},
  {"transform":[{"filter":"datum.c == 1 && datum.g == 'Partial'"}],"mark":{"type":"point","filled":true,"size":30,"opacity":1,"shape":"square"}},
  {"transform":[{"filter":"datum.c == 1 && datum.g == 'Diffuse'"}],"mark":{"type":"point","filled":true,"size":30,"opacity":1,"shape":"triangle-up"}},
  {"mark":{"type":"line","interpolate":"step-after","strokeWidth":1.2}},
  {"data":{"values":[{}]},"mark":{"type":"text","align":"right","baseline":"middle","dx":5,"fontSize":11,"fontWeight":"bold","font":"Liberation Sans","color":"#000"},
   "encoding":{"x":{"datum":10,"type":"quantitative"},"y":{"datum":11.7,"type":"quantitative"},"color":{"value":"#000"},"text":{"value":"= 0.052"}}},
  {"data":{"values":[{}]},"mark":{"type":"text","align":"right","baseline":"middle","dx":-35,"fontSize":11,"fontWeight":"bold","fontStyle":"italic","font":"Liberation Sans","color":"#000"},
   "encoding":{"x":{"datum":10,"type":"quantitative"},"y":{"datum":11.7,"type":"quantitative"},"color":{"value":"#000"},"text":{"value":"p"}}}
 ]},
{"title":{"text":"F"},
 "width":206,"height":137.5,"data":{"name":"km"},"transform":[{"filter":"datum.p == 'F'"}],
 "encoding":{"x":{"field":"t","type":"quantitative","scale":{"domain":[0,10]},"axis":{"title":"Years","values":[0,2,4,6,8,10]}},
    "y":{"field":"s","type":"quantitative","scale":{"domain":[0,110]},"axis":{"title":"Recurrence-free survival (%)","values":[0,50,100]}},
    "color":{"field":"g","type":"nominal","scale":{"domain":["GATA3 (-)","Partial","Diffuse"],"range":["#0000ff","#ff0000","#20b020"]},
     "legend":{"title":null,"legendX":147,"legendY":5.7,"symbolType":{"expr":"datum.index == 0 ? 'M-3.2,-0.1H3.2V0.1H-3.2ZM1.05,0A1.05,1.05,0,1,1,-1.05,0A1.05,1.05,0,1,1,1.05,0Z' : datum.index == 1 ? 'M-3.2,-0.1H3.2V0.1H-3.2ZM-0.9,-0.9H0.9V0.9H-0.9Z' : 'M-3.2,-0.1H3.2V0.1H-3.2ZM0,-1.1L1.1,0.8H-1.1Z'"}}}},
 "layer":[
  {"transform":[{"filter":"datum.c == 1 && datum.g == 'GATA3 (-)'"}],"mark":{"type":"point","filled":true,"size":30,"opacity":1,"shape":"circle"}},
  {"transform":[{"filter":"datum.c == 1 && datum.g == 'Partial'"}],"mark":{"type":"point","filled":true,"size":30,"opacity":1,"shape":"square"}},
  {"transform":[{"filter":"datum.c == 1 && datum.g == 'Diffuse'"}],"mark":{"type":"point","filled":true,"size":30,"opacity":1,"shape":"triangle-up"}},
  {"mark":{"type":"line","interpolate":"step-after","strokeWidth":1.2}},
  {"data":{"values":[{}]},"mark":{"type":"text","align":"right","baseline":"middle","dx":5,"fontSize":11,"fontWeight":"bold","font":"Liberation Sans","color":"#000"},
   "encoding":{"x":{"datum":10,"type":"quantitative"},"y":{"datum":11.7,"type":"quantitative"},"color":{"value":"#000"},"text":{"value":"= 0.002"}}},
  {"data":{"values":[{}]},"mark":{"type":"text","align":"right","baseline":"middle","dx":-35,"fontSize":11,"fontWeight":"bold","fontStyle":"italic","font":"Liberation Sans","color":"#000"},
   "encoding":{"x":{"datum":10,"type":"quantitative"},"y":{"datum":11.7,"type":"quantitative"},"color":{"value":"#000"},"text":{"value":"p"}}}
 ]}
]
}
